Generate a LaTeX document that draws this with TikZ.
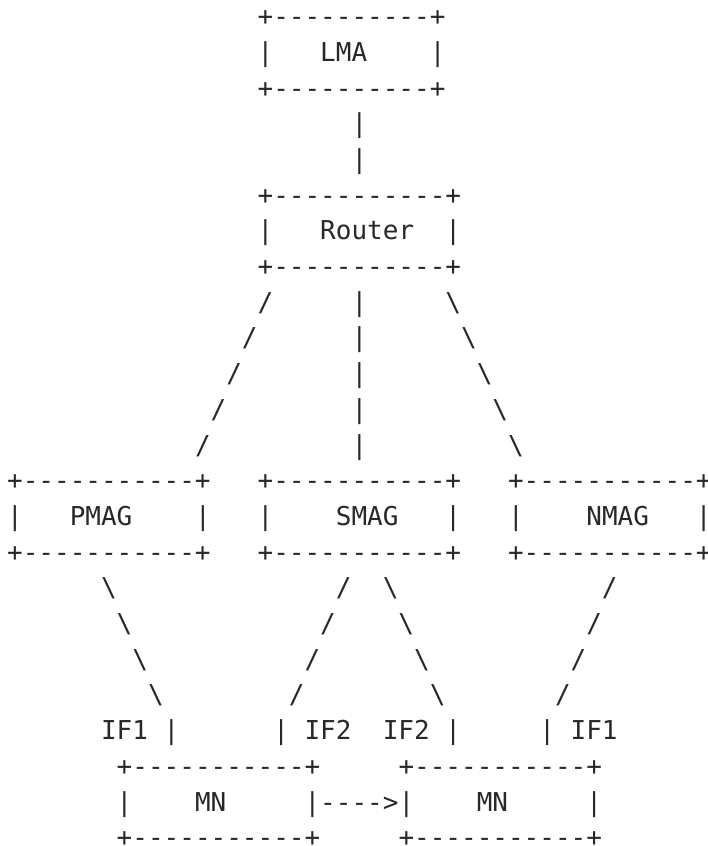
\documentclass[tikz,border=0pt]{standalone}
\usepackage{fontspec}
\setmonofont{DejaVu Sans Mono}
\usepackage{tikz}
\usetikzlibrary{positioning}
\definecolor{asciigray}{RGB}{40, 40, 40}
\newlength{\cw}
\settowidth{\cw}{\fontsize{26}{36}\selectfont\ttfamily +}
\newcommand{\gap}[1]{\hspace*{#1\cw}}
% box drawn from characters: name, column, row, dashes, label column, label
\newcommand{\asciibox}[6]{%
    \node[ascii] (#1-top) at (#2,#3) {+#4+};
    \node[ascii] (#1-left) at (#2,#3+1) {|};
    \node[ascii] (#1) at (#5,#3+1) {#6};
    \node[ascii, anchor=base east] (#1-right) at ([yshift=-35.7pt]#1-top.base east) {|};
    \node[ascii] (#1-bot) at (#2,#3+2) {+#4+};
}
\tikzset{
    ascii/.style={anchor=base west, inner sep=0pt, outer sep=0pt, text=asciigray, font=\fontsize{26}{36}\selectfont\ttfamily}
}

\begin{document}
\begin{tikzpicture}[x=\cw, y=-35.7pt]
    \useasboundingbox (-7.17pt,-10.1pt) rectangle (699.83pt,-856.1pt);
    % top
    \asciibox{lma}{16}{1}{----------}{20}{LMA}
    \node[ascii] (up1) at (22,4) {|};
    \node[ascii] (up2) at (22,5) {|};
    \asciibox{router}{16}{6}{-----------}{20}{Router}
    % fan out to the MAGs
    \node[ascii] (fan1) at (16,9) {/\gap{5}|\gap{5}\textbackslash};
    \node[ascii] (fan2) at (15,10) {/\gap{6}|\gap{6}\textbackslash};
    \node[ascii] (fan3) at (14,11) {/\gap{7}|\gap{7}\textbackslash};
    \node[ascii] (fan4) at (13,12) {/\gap{8}|\gap{8}\textbackslash};
    \node[ascii] (fan5) at (12,13) {/\gap{9}|\gap{9}\textbackslash};
    \asciibox{pmag}{0}{14}{-----------}{4}{PMAG}
    \asciibox{smag}{16}{14}{-----------}{21}{SMAG}
    \asciibox{nmag}{32}{14}{-----------}{37}{NMAG}
    % attachments
    \node[ascii] (att1) at (6,17) {\textbackslash\gap{14}/\gap{2}\textbackslash\gap{13}/};
    \node[ascii] (att2) at (7,18) {\textbackslash\gap{12}/\gap{4}\textbackslash\gap{11}/};
    \node[ascii] (att3) at (8,19) {\textbackslash\gap{10}/\gap{6}\textbackslash\gap{9}/};
    \node[ascii] (att4) at (9,20) {\textbackslash\gap{8}/\gap{8}\textbackslash\gap{7}/};
    \node[ascii] (ifs) at (6,21) {IF1\gap{1}|\gap{6}|\gap{1}IF2\gap{2}IF2\gap{1}|\gap{5}|\gap{1}IF1};
    % mobile node before and after
    \asciibox{mn}{7}{22}{-----------}{12}{MN}
    \asciibox{mnnew}{25}{22}{-----------}{30}{MN}
    \node[ascii] (move) at (20,23) {---->};
\end{tikzpicture}
\end{document}
